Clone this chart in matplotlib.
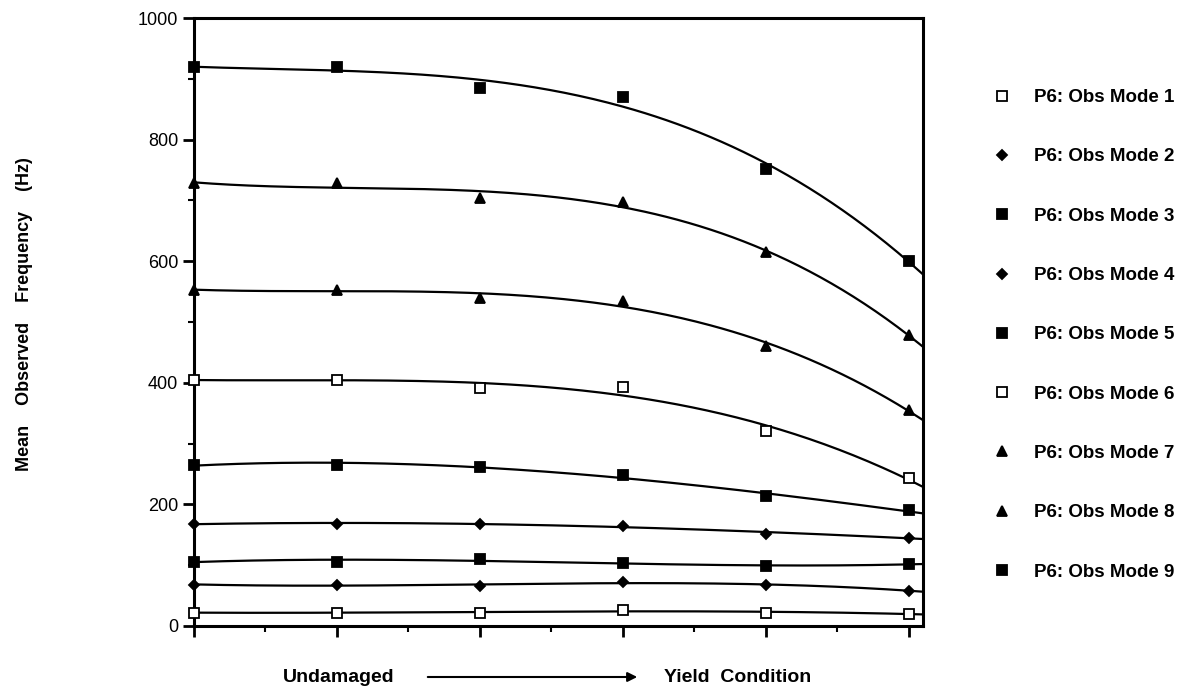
import numpy as np
import matplotlib.pyplot as plt
from matplotlib.ticker import MultipleLocator

plt.rcParams['font.family'] = ['Liberation Sans', 'DejaVu Sans']

# damage steps (undamaged -> yield condition)
steps = [0, 1, 2, 3, 4, 5]

# mean observed frequency (Hz) for each mode
mode1 = [22, 22, 22, 26, 22, 20]
mode2 = [68, 68, 66, 72, 68, 58]
mode3 = [106, 106, 110, 103, 98, 102]
mode4 = [168, 168, 168, 165, 152, 145]
mode5 = [265, 265, 262, 248, 213, 190]
mode6 = [405, 405, 392, 393, 320, 243]
mode7 = [553, 553, 540, 535, 460, 355]
mode8 = [728, 728, 704, 697, 615, 478]
mode9 = [919, 919, 885, 870, 752, 601]

modes = [mode1, mode2, mode3, mode4, mode5, mode6, mode7, mode8, mode9]
labels = ['P6: Obs Mode %d' % (i + 1) for i in range(9)]
markers = ['s', 'D', 's', 'D', 's', 's', '^', '^', 's']
filled = [False, True, True, True, True, False, True, True, True]

fig = plt.figure(figsize=(11.88, 6.93), dpi=100)
ax = fig.add_axes([0.1633, 0.0967, 0.6137, 0.8773])

xs = np.linspace(0, 5.1, 200)
handles = []
for vals, lab, mk, fl in zip(modes, labels, markers, filled):
    # smooth fitted curve through the observed points
    coef = np.polyfit(steps, vals, 3)
    ax.plot(xs, np.polyval(coef, xs), '-', color='black', linewidth=1.6)
    ms = 5 if mk == 'D' else 6.5
    h, = ax.plot(steps, vals, linestyle='none', marker=mk, markersize=ms,
                 markerfacecolor='black' if fl else 'white',
                 markeredgecolor='black', markeredgewidth=1.3, label=lab,
                 clip_on=False, zorder=3)
    handles.append(h)

ax.set_xlim(0, 5.1)
ax.set_ylim(0, 1000)
ax.set_xticks(steps)
ax.set_xticklabels([])
ax.xaxis.set_minor_locator(MultipleLocator(0.5))
ax.set_yticks(np.arange(0, 1001, 200))
ax.yaxis.set_minor_locator(MultipleLocator(100))
ax.tick_params(axis='both', which='major', labelsize=13, width=2, length=8, direction='out')
ax.tick_params(axis='both', which='minor', width=1.5, length=4, direction='out')
for spine in ax.spines.values():
    spine.set_linewidth(2.2)

fig.text(25 / 1188, 1 - 314 / 693, 'Mean    Observed    Frequency    (Hz)', rotation=90,
         ha='center', va='center', fontsize=13, weight='bold')

# x-axis caption with arrow
fig.text(339 / 1188, 1 - 677 / 693, 'Undamaged', ha='center', va='center', fontsize=14, weight='bold')
fig.text(738 / 1188, 1 - 677 / 693, 'Yield  Condition', ha='center', va='center', fontsize=14, weight='bold')
ax.annotate('', xy=(640 / 1188, 1 - 677 / 693), xytext=(425 / 1188, 1 - 677 / 693),
            xycoords='figure fraction', textcoords='figure fraction',
            arrowprops=dict(arrowstyle='-|>', color='black', linewidth=1.5, mutation_scale=14))

ax.legend(handles=handles, loc='upper left', bbox_to_anchor=(1.0726, 0.911), frameon=False,
          handletextpad=1.2, labelspacing=2.25, handlelength=1,
          prop={'weight': 'bold', 'size': 13.5})

plt.savefig('out.png', dpi=100)
